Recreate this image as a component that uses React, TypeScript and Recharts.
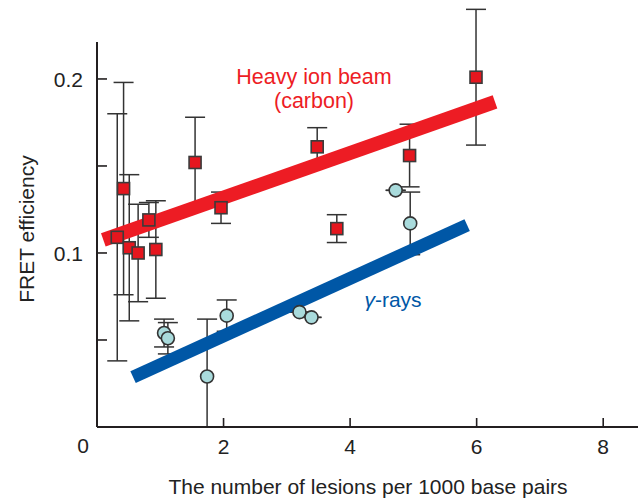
import { ScatterChart, Scatter, XAxis, YAxis, ErrorBar, ReferenceLine } from "recharts";

// heavy ion beam (carbon) – red squares
const heavyX = [0.32, 0.42, 0.51, 0.65, 0.82, 0.93, 1.55, 1.96, 3.48, 3.79, 4.94, 5.99];
const heavyY = [0.109, 0.137, 0.103, 0.1, 0.119, 0.102, 0.152, 0.126, 0.161, 0.114, 0.156, 0.201];
const heavyErr = [0.071, 0.061, 0.042, 0.028, 0.01, 0.028, 0.026, 0.009, 0.011, 0.008, 0.018, 0.039];

// gamma rays – cyan circles
const gammaX = [1.06, 1.12, 1.74, 2.05, 3.2, 3.39, 4.72, 4.95];
const gammaY = [0.054, 0.051, 0.029, 0.064, 0.066, 0.063, 0.136, 0.117];
const gammaErrLow = [0.008, 0.009, 0.029, 0.009, 0, 0, 0, 0.018];
const gammaErrHigh = [0.008, 0.009, 0.033, 0.009, 0, 0, 0, 0.018];

// fitted lines
const heavyFitX = [0.1, 6.29];
const heavyFitY = [0.1075, 0.1868];
const gammaFitX = [0.57, 5.85];
const gammaFitY = [0.0287, 0.116];

const xTicks = [2, 4, 6, 8];
const yTicks = [0, 0.05, 0.1, 0.15, 0.2];
const yLabels = ["0", "", "0.1", "", "0.2"];

const heavy = heavyX.map((x, i) => ({ x, y: heavyY[i], err: heavyErr[i] }));
const gamma = gammaX.map((x, i) => ({ x, y: gammaY[i], err: [gammaErrLow[i], gammaErrHigh[i]] }));
const heavyFit = heavyFitX.map((x, i) => ({ x, y: heavyFitY[i] }));
const gammaFit = gammaFitX.map((x, i) => ({ x, y: gammaFitY[i] }));

const FONT = "'Liberation Sans', Arial, Helvetica, sans-serif";
const AXIS = "#231f20";
const RED = "#ed1c24";
const BLUE = "#0057a6";
const LEFT = 97;
const BOTTOM = 427;

const Nothing = () => <g />;

const Square = (p: any) => (
  <rect x={p.cx - 6} y={p.cy - 6} width={12} height={12} fill="#e5161e" stroke="#3b3b3b" strokeWidth={1.6} />
);

const Dot = (p: any) => (
  <circle cx={p.cx} cy={p.cy} r={6.5} fill="#a9dbdc" stroke="#333" strokeWidth={1.6} />
);

const XTick = (p: any) => {
  const x = p.x;
  return (
    <g>
      <line x1={x} y1={BOTTOM} x2={x} y2={BOTTOM - 9} stroke={AXIS} strokeWidth={1.6} />
      <text x={x} y={BOTTOM + 27} textAnchor="middle" fontSize={21} fontFamily={FONT} fill="#222">
        {p.payload.value}
      </text>
    </g>
  );
};

const YTick = (p: any) => {
  const y = p.y;
  const v = p.payload.value;
  const i = yTicks.indexOf(v);
  const label = yLabels[i];
  return (
    <g>
      {v > 0 && <line x1={LEFT} y1={y} x2={LEFT + 10} y2={y} stroke={AXIS} strokeWidth={1.6} />}
      {label && (
        <text
          x={v === 0 ? LEFT - 8 : LEFT - 14}
          y={v === 0 ? y + 26 : y + 8}
          textAnchor="end"
          fontSize={21}
          fontFamily={FONT}
          fill="#222"
        >
          {label}
        </text>
      )}
    </g>
  );
};

export default function App() {
  return (
    <div style={{ position: "absolute", left: 0, top: 0, width: 643, height: 500, background: "#fff" }}>
      <ScatterChart width={643} height={500} margin={{ top: 5, right: 5, bottom: 72, left: LEFT - 1 }}>
        <XAxis
          type="number"
          dataKey="x"
          domain={[0, 8.55]}
          ticks={xTicks}
          height={1}
          tickLine={false}
          tick={<XTick />}
          axisLine={{ stroke: AXIS, strokeWidth: 2 }}
        />
        <YAxis
          type="number"
          dataKey="y"
          domain={[0, 0.2425]}
          ticks={yTicks}
          width={1}
          tickLine={false}
          axisLine={false}
          tick={<YTick />}
        />
        <ReferenceLine
          segment={[{ x: 0, y: 0 }, { x: 0, y: 0.2213 }]}
          stroke={AXIS}
          strokeWidth={2}
        />
        <Scatter data={heavy} shape={Nothing} isAnimationActive={false}>
          <ErrorBar dataKey="err" direction="y" width={10} stroke="#333" strokeWidth={1.5} isAnimationActive={false} />
        </Scatter>
        <Scatter data={gamma} shape={Nothing} isAnimationActive={false}>
          <ErrorBar dataKey="err" direction="y" width={10} stroke="#333" strokeWidth={1.5} isAnimationActive={false} />
        </Scatter>
        <Scatter data={heavyFit} shape={Nothing} line={{ stroke: RED, strokeWidth: 14 }} isAnimationActive={false} />
        <Scatter data={gammaFit} shape={Nothing} line={{ stroke: BLUE, strokeWidth: 13 }} isAnimationActive={false} />
        <Scatter data={heavy} shape={Square} isAnimationActive={false} />
        <Scatter data={gamma} shape={Dot} isAnimationActive={false} />
      </ScatterChart>
      <svg
        width={643}
        height={500}
        style={{ position: "absolute", left: 0, top: 0, pointerEvents: "none" }}
        fontFamily={FONT}
      >
        <text x={314} y={84} textAnchor="middle" fontSize={21.5} fill={RED}>
          Heavy ion beam
        </text>
        <text x={314} y={108} textAnchor="middle" fontSize={21.5} fill={RED}>
          (carbon)
        </text>
        <text x={393} y={307} textAnchor="middle" fontSize={21} fill={BLUE}>
          <tspan fontStyle="italic">γ</tspan>-rays
        </text>
        <text transform="translate(34,229) rotate(-90)" textAnchor="middle" fontSize={21} fill="#222">
          FRET efficiency
        </text>
        <text x={368} y={494} textAnchor="middle" fontSize={21} fill="#222">
          The number of lesions per 1000 base pairs
        </text>
      </svg>
    </div>
  );
}
